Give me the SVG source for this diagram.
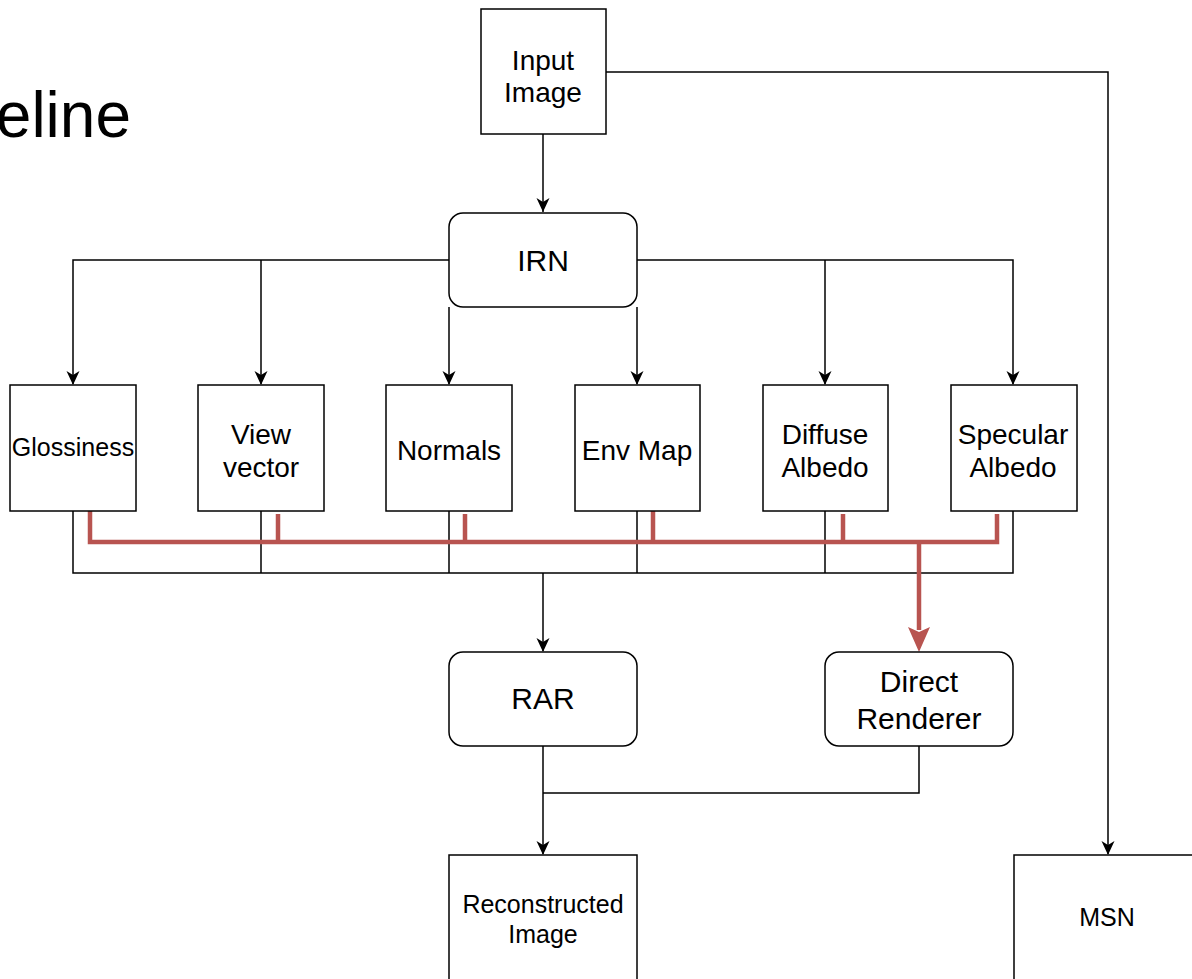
<svg xmlns="http://www.w3.org/2000/svg" width="1192" height="979" viewBox="0 0 1192 979">
<style>
.box{fill:#fff;stroke:#000;stroke-width:1.5}
.t{font-family:"Liberation Sans",Arial,sans-serif;fill:#000;text-anchor:middle}
.c{fill:none;stroke:#000;stroke-width:1.5}
.r{fill:none;stroke:#b85450;stroke-width:4.5}
.ah{fill:#000}
.l{font-size:28px}
.b{font-size:30px}
.s{font-size:25px}
</style>
<rect width="1192" height="979" fill="#fff"/>
<text class="t" x="131" y="137" style="font-size:64px;text-anchor:end">eline</text>

<g id="connectors">
<path class="c" d="M543,134 V212"/>
<path class="c" d="M606,72 H1108 V854"/>
<path class="c" d="M449,260 H73 V384"/>
<path class="c" d="M261,260 V384"/>
<path class="c" d="M449,307 V384"/>
<path class="c" d="M637,307 V384"/>
<path class="c" d="M637,260 H1013 V384"/>
<path class="c" d="M825,260 V384"/>
<path class="c" d="M73,511 V573 H1013 V511 M261,511 V573 M449,511 V573 M637,511 V573 M825,511 V573"/>
<path class="c" d="M543,573 V651"/>
<path class="c" d="M543,746 V854"/>
<path class="c" d="M919,746 V793 H543"/>
<g id="arrowheads" class="ah">
<path d="M536.5,198 L543,212 L549.5,198 L543,202 Z"/>
<path d="M1101.5,841 L1108,855 L1114.5,841 L1108,845 Z"/>
<path d="M66.5,371 L73,385 L79.5,371 L73,375 Z"/>
<path d="M254.5,371 L261,385 L267.5,371 L261,375 Z"/>
<path d="M442.5,371 L449,385 L455.5,371 L449,375 Z"/>
<path d="M630.5,371 L637,385 L643.5,371 L637,375 Z"/>
<path d="M818.5,371 L825,385 L831.5,371 L825,375 Z"/>
<path d="M1006.5,371 L1013,385 L1019.5,371 L1013,375 Z"/>
<path d="M536.5,638 L543,652 L549.5,638 L543,642 Z"/>
<path d="M536.5,841 L543,855 L549.5,841 L543,845 Z"/>
</g>
<path class="r" d="M90,511 V542 H997 V514 M278,514 V542 M465,514 V542 M653,509 V542 M843,514 V542"/>
<path class="r" d="M919,542 V630"/>
<path d="M908,627 L919,652 L930,627 L919,632 Z" fill="#b85450"/>
</g>

<g id="input-image"><rect class="box" x="481" y="9" width="125" height="125"/>
<text class="t l" x="543" y="70">Input</text><text class="t l" x="543" y="102">Image</text></g>
<g id="irn"><rect class="box" x="449" y="213" width="188" height="94" rx="14"/>
<text class="t b" x="543" y="271">IRN</text></g>
<g id="glossiness"><rect class="box" x="10" y="385" width="126" height="126"/>
<text class="t s" x="73" y="456">Glossiness</text></g>
<g id="view-vector"><rect class="box" x="198" y="385" width="126" height="126"/>
<text class="t l" x="261" y="444">View</text><text class="t l" x="261" y="477">vector</text></g>
<g id="normals"><rect class="box" x="386" y="385" width="126" height="126"/>
<text class="t l" x="449" y="460">Normals</text></g>
<g id="env-map"><rect class="box" x="575" y="385" width="125" height="126"/>
<text class="t l" x="637" y="460">Env Map</text></g>
<g id="diffuse-albedo"><rect class="box" x="763" y="385" width="125" height="126"/>
<text class="t l" x="825" y="444">Diffuse</text><text class="t l" x="825" y="477">Albedo</text></g>
<g id="specular-albedo"><rect class="box" x="951" y="385" width="126" height="126"/>
<text class="t l" x="1013" y="444">Specular</text><text class="t l" x="1013" y="477">Albedo</text></g>
<g id="rar"><rect class="box" x="449" y="652" width="188" height="94" rx="14"/>
<text class="t b" x="543" y="709">RAR</text></g>
<g id="direct-renderer"><rect class="box" x="825" y="652" width="188" height="94" rx="14"/>
<text class="t b" x="919" y="692">Direct</text><text class="t b" x="919" y="729">Renderer</text></g>
<g id="reconstructed-image"><rect class="box" x="449" y="855" width="188" height="140"/>
<text class="t s" x="543" y="913">Reconstructed</text><text class="t s" x="543" y="943">Image</text></g>
<g id="msn"><rect class="box" x="1014" y="855" width="200" height="140"/>
<text class="t s" x="1107" y="926">MSN</text></g>
</svg>
